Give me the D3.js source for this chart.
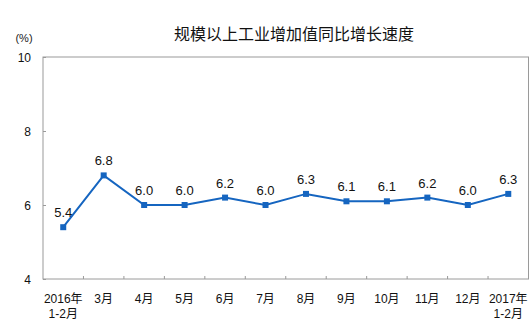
<!DOCTYPE html>
<html><head><meta charset="utf-8">
<script src="https://cdn.jsdelivr.net/npm/d3@7"></script>
<style>body{margin:0;background:#fff}svg{display:block}</style>
</head><body>
<script>
const categories = ["2016年\n1-2月","3月","4月","5月","6月","7月","8月","9月","10月","11月","12月","2017年\n1-2月"];
const values = [5.4,6.8,6.0,6.0,6.2,6.0,6.3,6.1,6.1,6.2,6.0,6.3];
const yTicks = [4,6,8,10];
const title = "规模以上工业增加值同比增长速度";

const W=529,H=324, L=43, R=528.5, T=57, B=279;
const svg=d3.select("body").append("svg").attr("width",W).attr("height",H);
const font='"Liberation Sans","Noto Sans CJK SC",sans-serif';
const x=d3.scaleBand().domain(categories).range([L,R]);
const y=d3.scaleLinear().domain([4,10]).range([B,T]);

svg.append("text").attr("x",294).attr("y",40).attr("text-anchor","middle")
  .attr("font-family",font).attr("font-size",16).attr("fill","#111").text(title);
svg.append("text").attr("x",24).attr("y",42).attr("text-anchor","middle")
  .attr("font-family",font).attr("font-size",11).attr("fill","#222").text("(%)");

svg.append("rect").attr("x",L).attr("y",T).attr("width",R-L).attr("height",B-T)
  .attr("fill","none").attr("stroke","#9a9a9a").attr("stroke-width",1);

const ya=svg.append("g").attr("transform",`translate(${L},0)`)
  .call(d3.axisRight(y).tickValues(yTicks).tickSize(3).tickFormat(""));
ya.select(".domain").remove();
ya.selectAll("line").attr("stroke","#9a9a9a");
svg.selectAll(".ylab").data(yTicks).enter().append("text")
  .attr("x",31).attr("y",d=>y(d)+4.5).attr("text-anchor","end")
  .attr("font-family",font).attr("font-size",12).attr("fill","#111").text(d=>d);

const bounds=categories.slice(1).map(c=>x(c));
svg.selectAll(".xt").data(bounds).enter().append("line")
  .attr("x1",d=>d).attr("x2",d=>d).attr("y1",B).attr("y2",B-3).attr("stroke","#9a9a9a");

const cx=c=>x(c)+x.bandwidth()/2;
const xl=svg.selectAll(".xl").data(categories).enter().append("text")
  .attr("text-anchor","middle").attr("font-family",font).attr("font-size",12).attr("fill","#111");
xl.each(function(d){
  const t=d3.select(this);
  d.split("\n").forEach((s,i)=>t.append("tspan").attr("x",cx(d)).attr("y",303+i*15).text(s));
});

const line=d3.line().x((d,i)=>cx(categories[i])).y(d=>y(d));
svg.append("path").datum(values).attr("d",line).attr("fill","none")
  .attr("stroke","#1565c0").attr("stroke-width",2);
svg.selectAll(".pt").data(values).enter().append("rect")
  .attr("x",(d,i)=>cx(categories[i])-3).attr("y",d=>y(d)-3)
  .attr("width",6).attr("height",6).attr("fill","#1565c0");
svg.selectAll(".vl").data(values).enter().append("text")
  .attr("x",(d,i)=>cx(categories[i])).attr("y",d=>y(d)-10)
  .attr("text-anchor","middle").attr("font-family",font).attr("font-size",13).attr("fill","#111")
  .text(d=>d.toFixed(1));
</script>
</body></html>
